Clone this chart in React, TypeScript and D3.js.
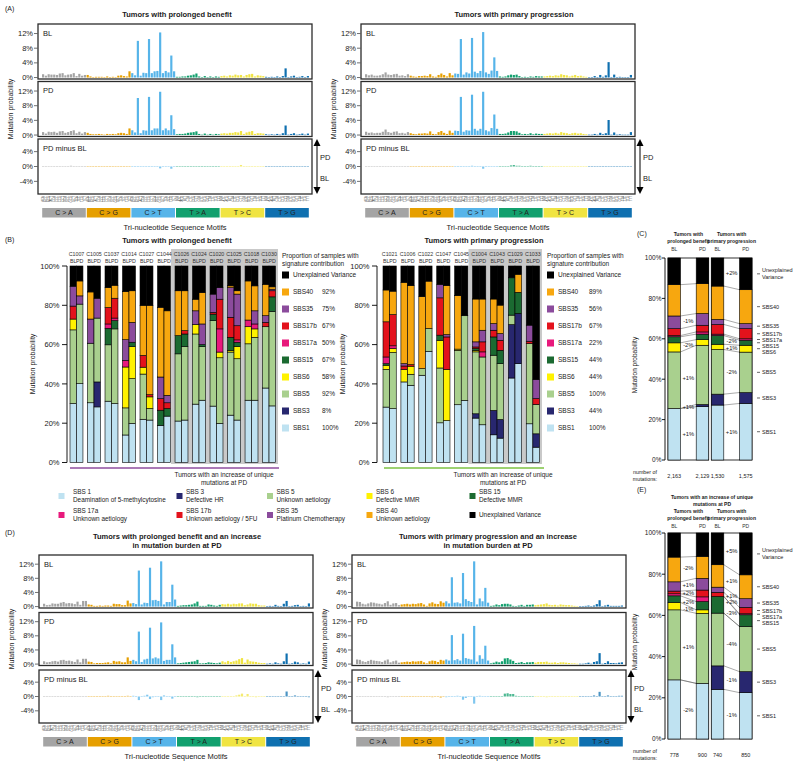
import React from 'react'
import * as d3 from 'd3'

const FONT = '"Liberation Sans", Arial, Helvetica, sans-serif'

// ---------- mutational spectra (% of mutations per trinucleotide context)
const SUBSTITUTIONS = ['C > A', 'C > G', 'C > T', 'T > A', 'T > C', 'T > G']
const SUB_COLORS = ['#a4a4a4', '#e69f00', '#56b4e9', '#12a06e', '#f0e442', '#0f70b0']
const BASES = ['A', 'C', 'G', 'T']
const MOTIFS = SUBSTITUTIONS.flatMap((s) => BASES.flatMap((a) => BASES.map((b) => a + s[0] + b)))

// (A) prolonged benefit
const PB_BL = [
  0.9, 0.5, 0.9, 0.8, 0.8, 0.7, 1.1, 1.2, 0.6, 0.8, 0.9, 1.2, 0.4, 1.0, 0.5, 0.7,
  0.7, 0.3, 0.1, 0.2, 0.2, 0.2, 0.1, 0.3, 0.1, 0.2, 0.1, 0.5, 0.6, 0.4, 0.3, 1.7,
  1.2, 0.6, 10.0, 0.5, 1.3, 1.2, 10.5, 1.2, 1.7, 1.8, 12.3, 1.2, 1.8, 1.4, 6.0, 1.7,
  0.2, 0.2, 0.3, 0.3, 0.5, 0.6, 0.8, 1.1, 0.3, 0.1, 0.4, 0.1, 0.3, 0.1, 0.3, 0.2,
  0.4, 0.5, 0.3, 0.6, 0.5, 0.8, 0.6, 0.7, 0.3, 0.7, 0.9, 1.0, 0.3, 0.6, 0.5, 0.4,
  0.2, 0.1, 0.2, 0.1, 0.3, 0.1, 0.4, 2.5, 0.1, 0.3, 0.5, 0.1, 0.2, 0.4, 0.1, 0.4,
]
const PB_PD = [
  0.8, 0.4, 0.9, 0.8, 0.9, 0.6, 1.0, 1.1, 0.6, 0.8, 1.1, 1.3, 0.5, 0.9, 0.4, 0.8,
  0.6, 0.3, 0.2, 0.2, 0.3, 0.2, 0.1, 0.3, 0.2, 0.3, 0.2, 0.5, 0.6, 0.5, 0.3, 1.8,
  1.3, 0.7, 10.1, 0.5, 1.3, 1.2, 10.4, 1.3, 1.8, 1.8, 11.8, 1.3, 1.8, 1.3, 5.4, 1.6,
  0.2, 0.3, 0.3, 0.4, 0.6, 0.7, 0.8, 1.0, 0.3, 0.1, 0.4, 0.1, 0.3, 0.1, 0.3, 0.2,
  0.4, 0.5, 0.4, 0.6, 0.6, 0.8, 0.7, 1.1, 0.3, 0.7, 0.9, 1.1, 0.3, 0.5, 0.5, 0.4,
  0.2, 0.1, 0.2, 0.1, 0.3, 0.1, 0.5, 2.6, 0.1, 0.3, 0.5, 0.1, 0.2, 0.4, 0.1, 0.4,
]
// (A) primary progression
const PP_BL = [
  0.9, 0.6, 0.8, 0.5, 0.5, 0.6, 0.9, 1.4, 0.8, 0.7, 0.9, 1.0, 0.5, 0.6, 0.4, 0.9,
  0.5, 0.3, 0.2, 0.4, 0.4, 0.5, 0.4, 0.9, 0.3, 0.2, 0.7, 1.1, 0.7, 0.3, 1.2, 0.6,
  1.1, 1.0, 10.5, 0.8, 1.4, 1.1, 10.8, 1.6, 1.2, 1.8, 12.4, 1.4, 1.0, 1.9, 5.5, 1.8,
  0.3, 0.2, 0.3, 0.6, 0.8, 0.7, 0.8, 0.4, 0.1, 0.2, 0.1, 0.3, 0.2, 0.4, 0.3, 0.3,
  0.3, 0.4, 0.5, 0.4, 0.6, 0.5, 0.9, 0.7, 0.6, 0.3, 0.5, 0.7, 0.4, 0.5, 0.3, 0.2,
  0.1, 0.1, 0.4, 0.1, 0.7, 0.2, 0.6, 4.2, 0.1, 0.8, 0.1, 0.2, 0.1, 0.1, 0.1, 0.7,
]
const PP_PD = [
  0.9, 0.6, 0.7, 0.5, 0.6, 0.6, 0.9, 1.5, 0.8, 0.6, 0.9, 1.0, 0.5, 0.6, 0.4, 0.8,
  0.5, 0.3, 0.2, 0.4, 0.4, 0.5, 0.4, 1.0, 0.3, 0.2, 0.8, 1.1, 0.6, 0.3, 1.2, 0.6,
  1.2, 1.1, 10.4, 0.9, 1.3, 1.2, 11.0, 1.7, 1.2, 1.7, 11.8, 1.3, 1.0, 1.9, 5.6, 1.7,
  0.3, 0.3, 0.4, 0.7, 1.1, 1.1, 1.0, 0.6, 0.2, 0.3, 0.2, 0.5, 0.2, 0.4, 0.3, 0.3,
  0.3, 0.4, 0.5, 0.4, 0.6, 0.4, 0.8, 0.6, 0.5, 0.3, 0.5, 0.6, 0.4, 0.5, 0.3, 0.2,
  0.1, 0.1, 0.3, 0.1, 0.6, 0.2, 0.5, 4.1, 0.1, 0.7, 0.1, 0.2, 0.1, 0.1, 0.1, 0.8,
]
// (D) prolonged benefit, increase in mutation burden
const IPB_BL = [
  0.8, 0.4, 0.5, 0.9, 0.8, 0.8, 1.1, 1.3, 0.9, 1.0, 0.9, 0.7, 1.4, 0.5, 1.6, 1.6,
  0.6, 0.5, 0.2, 0.2, 0.3, 0.2, 0.3, 0.3, 0.2, 0.8, 0.7, 0.7, 0.4, 0.4, 1.7, 0.9,
  1.0, 0.7, 10.2, 0.6, 1.1, 1.0, 11.0, 1.8, 1.9, 1.6, 12.8, 0.6, 1.3, 1.3, 6.2, 2.0,
  0.2, 0.3, 0.4, 0.4, 0.5, 0.6, 0.9, 1.4, 0.2, 0.2, 0.2, 0.6, 0.5, 0.3, 0.2, 0.5,
  0.7, 0.6, 0.8, 0.6, 0.8, 0.7, 0.9, 0.9, 0.4, 0.6, 0.9, 0.8, 0.8, 0.4, 0.3, 0.3,
  0.1, 0.2, 0.1, 0.5, 0.2, 0.1, 0.8, 1.6, 0.1, 0.2, 0.4, 0.5, 0.1, 0.2, 0.1, 0.9,
]
const IPB_PD = [
  0.8, 0.5, 0.6, 0.8, 0.9, 0.7, 1.1, 1.2, 0.9, 1.0, 0.8, 0.6, 1.3, 0.5, 1.5, 1.5,
  0.7, 0.6, 0.2, 0.3, 0.3, 0.3, 0.4, 0.5, 0.2, 0.9, 0.7, 0.8, 0.5, 0.5, 1.9, 0.9,
  1.2, 0.8, 9.2, 0.6, 1.3, 1.5, 10.3, 1.6, 1.9, 1.6, 11.8, 0.9, 1.2, 1.2, 5.6, 1.9,
  0.2, 0.3, 0.4, 0.5, 0.6, 0.7, 0.8, 1.2, 0.2, 0.2, 0.3, 0.5, 0.4, 0.3, 0.2, 0.4,
  0.8, 0.5, 0.9, 0.6, 0.8, 1.0, 1.4, 1.7, 0.4, 1.3, 0.8, 0.7, 0.6, 0.4, 0.3, 0.3,
  0.1, 0.2, 0.1, 0.5, 0.2, 0.1, 0.8, 3.0, 0.1, 0.2, 0.7, 0.5, 0.1, 0.2, 0.1, 0.7,
]
// (D) primary progression, increase in mutation burden
const IPP_BL = [
  1.4, 1.3, 0.8, 0.6, 0.9, 1.2, 1.1, 0.9, 0.8, 0.6, 1.0, 1.5, 0.5, 0.9, 1.0, 0.4,
  0.6, 0.7, 0.8, 0.6, 0.8, 0.7, 0.9, 1.0, 0.6, 0.2, 0.9, 1.2, 0.8, 0.7, 1.5, 1.1,
  1.5, 0.9, 8.3, 1.1, 1.2, 0.9, 9.5, 2.1, 1.6, 1.3, 12.8, 0.6, 2.3, 1.5, 5.3, 1.1,
  0.2, 0.3, 0.6, 0.4, 0.7, 0.8, 0.8, 0.6, 0.2, 0.1, 0.3, 0.5, 0.2, 0.5, 0.5, 0.6,
  0.4, 0.5, 0.6, 0.7, 0.9, 0.5, 0.4, 0.5, 0.3, 0.6, 0.5, 0.4, 0.4, 0.3, 0.2, 0.1,
  0.1, 0.1, 0.2, 0.3, 0.1, 0.3, 0.7, 1.8, 0.1, 0.3, 0.5, 0.2, 0.2, 0.2, 0.2, 0.3,
]
const IPP_PD = [
  1.3, 1.2, 0.8, 0.6, 0.9, 1.2, 1.0, 0.9, 0.8, 0.6, 1.0, 1.3, 0.5, 0.8, 1.0, 0.4,
  0.5, 0.6, 0.7, 0.6, 0.8, 0.7, 0.8, 0.9, 0.5, 0.2, 0.8, 1.0, 0.9, 0.6, 1.2, 1.0,
  1.3, 1.0, 8.2, 1.1, 1.4, 1.0, 8.6, 1.7, 1.5, 1.3, 10.8, 0.7, 2.5, 1.5, 5.2, 1.0,
  0.2, 0.4, 0.7, 0.5, 0.8, 1.6, 1.7, 1.3, 0.9, 0.3, 0.4, 0.6, 0.3, 0.5, 0.5, 0.6,
  0.4, 0.6, 0.6, 0.6, 0.7, 0.4, 0.4, 0.5, 0.3, 0.5, 0.5, 0.4, 0.3, 0.2, 0.2, 0.1,
  0.1, 0.1, 0.2, 0.4, 0.1, 0.6, 0.8, 3.1, 0.1, 0.3, 0.8, 0.3, 0.3, 0.2, 0.4, 0.5,
]

// ---------- signatures (stack order bottom -> top)
const SIGNATURES = ['SBS1', 'SBS3', 'SBS5', 'SBS6', 'SBS15', 'SBS17a', 'SBS17b', 'SBS35', 'SBS40', 'Unexplained Variance']
const SIG_COLORS = ['#bfe2f1', '#28276f', '#a9d08e', '#fff200', '#1b6a31', '#e8197c', '#e3121c', '#8b4b9c', '#f7a70f', '#000000']

// (B) per-sample contributions (%), rows = samples, cols = SIGNATURES
const B_PB_SAMPLES = ['C1007', 'C1005', 'C1037', 'C1014', 'C1027', 'C1044', 'C1026', 'C1024', 'C1020', 'C1025', 'C1018', 'C1030']
const B_PB_BL = [
  [30, 0, 37.5, 5.5, 0, 0, 6.6, 10.1, 0, 10.3],
  [30.4, 0, 30.3, 0, 0, 0, 0, 12.3, 13.8, 13.2],
  [31.2, 0, 28.7, 0, 8.4, 2.2, 8.4, 0, 10.1, 11],
  [14, 0, 13.8, 20.8, 0, 3.3, 0, 10.6, 24.5, 13],
  [22, 0, 23, 3.5, 0, 0, 6, 0, 25.5, 20],
  [18.9, 0, 0, 0, 7.7, 0, 5.9, 11, 35.5, 21],
  [21.1, 0, 34.2, 0, 9.3, 0, 0, 0, 22.8, 12.6],
  [29.7, 0, 35.7, 4.8, 0, 0, 0, 7, 5.9, 16.9],
  [28.7, 0, 43.5, 0, 3.3, 0, 0.9, 9.3, 0, 14.3],
  [24.1, 0, 32.1, 0.8, 6.7, 0, 10.2, 15.1, 0.9, 10.1],
  [31.7, 0, 28.7, 8.7, 0, 3.4, 0, 0, 19.9, 7.6],
  [37.9, 0, 31.2, 0, 0, 0, 2.2, 3.4, 16, 9.3],
]
const B_PB_PD = [
  [40.1, 0, 40.5, 0, 0, 0, 0, 4.2, 7.6, 7.6],
  [28.3, 12.7, 32.5, 0, 0, 0, 0, 10.1, 0, 16.4],
  [30, 0, 38, 0, 4.2, 1.3, 10.1, 0, 6.6, 9.8],
  [19.9, 0, 22.8, 16.3, 2.2, 0, 0, 10.1, 16.1, 12.6],
  [21.6, 0, 5.9, 5.9, 0, 0, 1.1, 0, 45.5, 20],
  [23.6, 0, 0, 0, 3.9, 0, 2.9, 3.8, 43, 22.8],
  [21.6, 0, 37.4, 0, 6.4, 0, 1.7, 0, 20.3, 12.6],
  [31.7, 0, 27.3, 0, 1, 0, 0, 10.5, 16, 13.5],
  [19.9, 0, 33.4, 2.9, 0, 11.8, 15.1, 5.9, 0, 11],
  [21.6, 0, 31.2, 6.2, 2.2, 1.2, 7.2, 16.1, 1.7, 12.6],
  [31.7, 0, 32, 4.3, 0, 2.5, 0, 6.7, 12.7, 10.1],
  [28.8, 0, 48.1, 0, 7.4, 0, 3.1, 0.8, 1.2, 10.6],
]
const B_PP_SAMPLES = ['C1021', 'C1006', 'C1022', 'C1047', 'C1045', 'C1004', 'C1043', 'C1029', 'C1033']
const B_PP_BL = [
  [28.2, 0, 19.2, 2.1, 0.8, 3.4, 17.9, 0, 16.2, 12.2],
  [41, 0, 0, 6.4, 0, 0, 1.7, 1.2, 41.4, 8.3],
  [44.4, 0, 3.4, 0, 0, 0, 0, 0, 36.6, 15.6],
  [20.2, 0, 27.9, 14.1, 2.6, 0, 19, 6.8, 0, 9.4],
  [29.4, 0, 27.7, 0.6, 0, 0, 0, 0, 27.2, 15.1],
  [22.6, 2.2, 31.5, 0.8, 0.9, 0, 0.8, 2.6, 21.8, 16.8],
  [14.1, 12.4, 28.1, 0, 9.3, 0, 3.4, 3.4, 12.5, 16.8],
  [43, 27.2, 4.8, 0, 19, 0, 0, 0, 0, 6],
  [19.7, 0, 40.8, 0, 0, 0, 1.2, 8.2, 0, 30.1],
]
const B_PP_PD = [
  [27.4, 0, 28.6, 2, 0, 1.4, 15.9, 0, 11.9, 12.8],
  [39.3, 0, 5.6, 4.1, 0, 0, 0.8, 0, 40.2, 10],
  [56.6, 0, 11.6, 0, 0, 0, 0, 0, 24.1, 7.7],
  [21.3, 0, 0, 26.1, 0, 0, 16.5, 1.2, 24.9, 10],
  [31.6, 0, 43.1, 0, 0, 0, 0, 0, 0, 25.3],
  [19.2, 0, 34.5, 0, 0, 2.6, 5.1, 5.9, 15.9, 16.8],
  [12.4, 9.5, 28.4, 0, 6.8, 0, 5.1, 3.4, 14.5, 19.9],
  [50.3, 25.6, 0, 0, 10.7, 0, 0, 0, 9.2, 4.2],
  [7.8, 6.8, 15, 0, 0, 0, 2.9, 9.7, 0, 57.8],
]
// proportion of samples with signature contribution (same order as SIGNATURES)
const B_PB_PROPORTION = ['100%', '8%', '92%', '58%', '67%', '50%', '67%', '75%', '92%', '']
const B_PP_PROPORTION = ['100%', '44%', '100%', '44%', '44%', '22%', '67%', '56%', '89%', '']

// bottom legend of (B)
const LEGEND_NAMES = ['SBS 1', 'SBS 3', 'SBS 5', 'SBS 6', 'SBS 15', 'SBS 17a', 'SBS 17b', 'SBS 35', 'SBS 40', 'Unexplained Variance']
const LEGEND_DESC = [
  'Deamination of 5-methylcytosine', 'Defective HR', 'Unknown aetiology', 'Defective MMR', 'Defective MMR',
  'Unknown aetiology', 'Unknown aetiology / 5FU', 'Platinum Chemotherapy', 'Unknown aetiology', '',
]

// (C) average contributions, all tumors
const C_PB_BL = [25.5, 0, 28, 4.5, 3, 0.6, 3.4, 6.3, 15.5, 13.2]
const C_PB_PD = [26.4, 1.1, 29.3, 2.8, 2.7, 1.1, 3.3, 5.8, 14.8, 12.7]
const C_PP_BL = [27.2, 5.4, 22.1, 2.6, 4.3, 0.7, 4.8, 2.5, 16.5, 13.9]
const C_PP_PD = [28, 5.4, 20, 3.4, 2.5, 0.7, 5, 2.5, 16.8, 15.7]
const C_PB_DELTA = ['+1%', '+1%', '+1%', '-2%', '', '', '', '-1%', '', '']
const C_PP_DELTA = ['+1%', '', '-2%', '+1%', '-2%', '', '', '', '', '+2%']
const C_COUNTS = ['2,163', '2,129', '1,530', '1,575']

// (E) tumors with an increase of unique mutations at PD
const E_PB_BL = [28.7, 0, 34, 3.6, 3.2, 1, 1.3, 4.5, 12, 11.7]
const E_PB_PD = [27, 0, 34, 1.7, 4, 2.3, 3.3, 5.7, 10.6, 11.4]
const E_PP_BL = [24.1, 11.4, 25.6, 0, 8.1, 0, 2, 2.5, 10.9, 15.4]
const E_PP_PD = [22.5, 10.2, 21.9, 0, 5.7, 0.5, 3.1, 4.2, 11.6, 20.3]
const E_PB_DELTA = ['-2%', '', '+1%', '-1%', '+2%', '', '+2%', '+1%', '-2%', '']
const E_PP_DELTA = ['-1%', '-1%', '-4%', '', '-3%', '', '+2%', '+1%', '+1%', '+5%']
const E_COUNTS = ['778', '900', '740', '850']

const INK = '#1a1a1a'

function Spectra({ x, top, boxH, gap, w, bl, pd }: any) {
  const diff = pd.map((v: number, i: number) => v - bl[i])
  const xs = d3.scaleBand<number>().domain(d3.range(MOTIFS.length)).range([x + 4, x + w - 3]).paddingInner(0.22)
  const bw = xs.bandwidth()
  const half = (xs.step() * xs.paddingInner()) / 2
  const rows = [
    { name: 'BL', values: bl, domain: [-0.4, 14.6], ticks: [0, 4, 8, 12] },
    { name: 'PD', values: pd, domain: [-0.4, 14.6], ticks: [0, 4, 8, 12] },
    { name: 'PD minus BL', values: diff, domain: [-7.4, 7.4], ticks: [-4, 0, 4] },
  ]
  const bottom = top + 3 * boxH + 2 * gap
  const diffTop = top + 2 * (boxH + gap)
  const ax = x + w + 5
  return (
    <g>
      {rows.map((r, ri) => {
        const y0 = top + ri * (boxH + gap)
        const y = d3.scaleLinear().domain(r.domain).range([y0 + boxH, y0])
        return (
          <g key={r.name}>
            <rect x={x} y={y0} width={w} height={boxH} fill="#fff" stroke="#2b2b2b" strokeWidth={1.3} />
            {r.ticks.map((t) => (
              <g key={t}>
                <line x1={x - 4} x2={x - 0.5} y1={y(t)} y2={y(t)} stroke="#333" strokeWidth={0.7} />
                <text x={x - 5} y={y(t) + 2.6} textAnchor="end" fontSize={7.5} fill={INK}>{t}%</text>
              </g>
            ))}
            {r.values.map((v: number, i: number) => (
              <rect
                key={i}
                x={xs(i)}
                y={y(Math.max(v, 0))}
                width={bw}
                height={Math.max(0.5, Math.abs(y(v) - y(0)))}
                fill={SUB_COLORS[Math.floor(i / 16)]}
                opacity={ri === 2 ? 0.75 : 1}
              />
            ))}
            <text x={x + 5} y={y0 + 11.5} fontSize={7.5} fill={INK}>{r.name}</text>
          </g>
        )
      })}
      {/* arrow */}
      <line x1={ax} x2={ax} y1={diffTop + 5} y2={bottom - 5} stroke="#000" strokeWidth={1} />
      <path d={`M${ax - 3.5},${diffTop + 7}L${ax},${diffTop}L${ax + 3.5},${diffTop + 7}Z`} fill="#000" />
      <path d={`M${ax - 3.5},${bottom - 7}L${ax},${bottom}L${ax + 3.5},${bottom - 7}Z`} fill="#000" />
      <text x={ax + 3} y={diffTop + 21} fontSize={7.5} fill={INK}>PD</text>
      <text x={ax + 3} y={diffTop + 42} fontSize={7.5} fill={INK}>BL</text>
      {/* motif labels */}
      {MOTIFS.map((m, i) => (
        <text
          key={i}
          transform={`translate(${xs(i)! + bw / 2 + 1},${bottom + 2}) rotate(-90)`}
          textAnchor="end"
          fontSize={2.8}
          fill="#444"
        >
          {m}
        </text>
      ))}
      {SUBSTITUTIONS.map((s, i) => {
        const x0 = xs(i * 16)! - half + 0.5
        const x1 = xs(i * 16 + 15)! + bw + half - 0.5
        return (
          <g key={s}>
            <rect x={x0} y={bottom + 14} width={x1 - x0} height={9.5} fill={SUB_COLORS[i]} />
            <text x={(x0 + x1) / 2} y={bottom + 21.3} textAnchor="middle" fontSize={7} fill="#222">{s}</text>
          </g>
        )
      })}
      <text x={x + w / 2} y={bottom + 36} textAnchor="middle" fontSize={7.5} fill={INK}>Tri-nucleotide Sequence Motifs</text>
      <text transform={`translate(${x - 25},${(top + bottom) / 2}) rotate(-90)`} textAnchor="middle" fontSize={7} fill={INK}>
        Mutation probability
      </text>
    </g>
  )
}

function Stack({ x, w, values, y }: any) {
  const cum = d3.cumsum(values as number[])
  return (
    <g>
      {(values as number[]).map((v, i) =>
        v > 0 ? (
          <rect key={i} x={x} y={y(cum[i])} width={w} height={y(cum[i] - v) - y(cum[i])} fill={SIG_COLORS[i]} stroke="#000" strokeWidth={0.6} />
        ) : null
      )}
    </g>
  )
}

function SampleBars({ samples, bl, pd, range, axisX, greyFrom, title, titleX, legendX, pctX, proportions, lineColor, lineRange, noteX }: any) {
  const xs = d3.scaleBand<string>().domain(samples).range(range).paddingInner(0.26)
  const bw = xs.bandwidth() / 2
  const y = d3.scaleLinear().domain([0, 100]).range([462.5, 266])
  const greyX = xs(samples[greyFrom])! - 4
  const order = d3.range(SIGNATURES.length - 1, -1, -1)
  const ly = d3.scalePoint<number>().domain(order).range([275, 428])
  return (
    <g>
      <rect x={greyX} y={249} width={range[1] + 2.5 - greyX} height={215} fill="#c9c9c9" />
      <text x={titleX} y={242.7} textAnchor="middle" fontSize={7.5} fontWeight="bold" fill={INK}>{title}</text>
      <line x1={axisX} x2={axisX} y1={y(100)} y2={y(0)} stroke="#000" strokeWidth={0.9} />
      {y.ticks(5).map((t) => (
        <g key={t}>
          <line x1={axisX - 5} x2={axisX} y1={y(t)} y2={y(t)} stroke="#000" strokeWidth={0.9} />
          <text x={axisX - 7.5} y={y(t) + 2.6} textAnchor="end" fontSize={7.5} fill={INK}>{t}%</text>
        </g>
      ))}
      <text transform={`translate(${axisX - 32},364) rotate(-90)`} textAnchor="middle" fontSize={7} fill={INK}>Mutation probability</text>
      {samples.map((s: string, i: number) => {
        const sx = xs(s)!
        return (
          <g key={s}>
            <text x={sx + bw} y={256} textAnchor="middle" fontSize={5.3} fill="#333">{s}</text>
            <text x={sx + bw / 2} y={263} textAnchor="middle" fontSize={5.3} fill="#333">BL</text>
            <text x={sx + bw * 1.5} y={263} textAnchor="middle" fontSize={5.3} fill="#333">PD</text>
            <Stack x={sx} w={bw} values={bl[i]} y={y} />
            <Stack x={sx + bw} w={bw} values={pd[i]} y={y} />
          </g>
        )
      })}
      {/* legend */}
      <text x={legendX} y={258} fontSize={6.5} fill={INK}>Proportion of samples with</text>
      <text x={legendX} y={266} fontSize={6.5} fill={INK}>signature contribution</text>
      {order.map((k) => (
        <g key={k}>
          <rect x={legendX} y={ly(k)! - 3.5} width={7} height={7} fill={SIG_COLORS[k]} />
          <text x={legendX + 11} y={ly(k)! + 2.3} fontSize={6.5} fill={INK}>{SIGNATURES[k]}</text>
          <text x={pctX} y={ly(k)! + 2.3} fontSize={6.5} fill={INK}>{proportions[k]}</text>
        </g>
      ))}
      <line x1={lineRange[0]} x2={lineRange[1]} y1={468} y2={468} stroke={lineColor} strokeWidth={1.3} />
      <text x={noteX} y={477} textAnchor="middle" fontSize={6.5} fill={INK}>Tumors with an increase of unique</text>
      <text x={noteX} y={485} textAnchor="middle" fontSize={6.5} fill={INK}>mutations at PD</text>
    </g>
  )
}

function Summary({ top, zero, groups, counts, headerY }: any) {
  const axisX = 665
  const gx = d3.scaleBand<number>().domain([0, 1]).range([668, 752]).paddingInner(0.06)
  const gw = gx.bandwidth()
  const bw = 12.5
  const y = d3.scaleLinear().domain([0, 100]).range([zero, top])
  const last = groups[1].pd as number[]
  const lastCum = d3.cumsum(last)
  const barCenters: number[] = []
  groups.forEach((_: any, gi: number) => {
    barCenters.push(gx(gi)! + bw / 2, gx(gi)! + gw - bw / 2)
  })
  // right-hand labels at the middle of the last bar's segments, nudged apart from the top down
  const labels: { i: number; yc: number; ty: number }[] = []
  let prev = -Infinity
  for (let i = last.length - 1; i >= 0; i--) {
    if (last[i] <= 0) continue
    const yc = y(lastCum[i] - last[i] / 2)
    const isUV = SIGNATURES[i] === 'Unexplained Variance'
    const ty = Math.max(yc, prev + 6)
    labels.push({ i, yc, ty })
    prev = isUV ? ty + 4 : ty
  }
  return (
    <g>
      <line x1={axisX} x2={axisX} y1={top} y2={zero} stroke="#000" strokeWidth={0.9} />
      {y.ticks(5).map((t) => (
        <g key={t}>
          <line x1={axisX - 3} x2={axisX} y1={y(t)} y2={y(t)} stroke="#000" strokeWidth={0.9} />
          <text x={axisX - 3.5} y={y(t) + 2.3} textAnchor="end" fontSize={6.5} fill={INK}>{t}%</text>
        </g>
      ))}
      <text transform={`translate(637,${(top + zero) / 2 + 6}) rotate(-90)`} textAnchor="middle" fontSize={6.5} fill={INK}>Mutation probability</text>
      {groups.map((g: any, gi: number) => {
        const x0 = gx(gi)!
        const blCum = d3.cumsum(g.bl as number[])
        const pdCum = d3.cumsum(g.pd as number[])
        return (
          <g key={gi}>
            <text x={x0 + gw / 2} y={headerY} textAnchor="middle" fontSize={5} fontWeight="bold" fill={INK}>Tumors with</text>
            <text x={x0 + gw / 2} y={headerY + 7} textAnchor="middle" fontSize={5} fontWeight="bold" fill={INK}>{g.name}</text>
            <text x={x0 + bw / 2} y={headerY + 15} textAnchor="middle" fontSize={5} fill="#333">BL</text>
            <text x={x0 + gw - bw / 2} y={headerY + 15} textAnchor="middle" fontSize={5} fill="#333">PD</text>
            <rect x={x0} y={top} width={gw} height={zero - top} fill="#fff" stroke="#000" strokeWidth={0.8} />
            {SIGNATURES.slice(0, -1).map((_, i) => (
              <line key={i} x1={x0 + bw} x2={x0 + gw - bw} y1={y(blCum[i])} y2={y(pdCum[i])} stroke="#555" strokeWidth={0.5} />
            ))}
            <Stack x={x0} w={bw} values={g.bl} y={y} />
            <Stack x={x0 + gw - bw} w={bw} values={g.pd} y={y} />
            {g.delta.map((d: string, i: number) =>
              d ? (
                <text
                  key={i}
                  x={x0 + gw / 2}
                  y={y((blCum[i] - g.bl[i] / 2 + pdCum[i] - g.pd[i] / 2) / 2) + 2}
                  textAnchor="middle"
                  fontSize={5.8}
                  fill={INK}
                >
                  {d}
                </text>
              ) : null
            )}
          </g>
        )
      })}
      {labels.map(({ i, yc, ty }) => {
        const name = SIGNATURES[i]
        return (
          <g key={i}>
            <line x1={757} x2={760} y1={yc} y2={yc} stroke="#000" strokeWidth={0.6} />
            {name === 'Unexplained Variance' ? (
              <>
                <text x={762} y={ty - 1.5} fontSize={5.5} fill={INK}>Unexplained</text>
                <text x={762} y={ty + 5.5} fontSize={5.5} fill={INK}>Variance</text>
              </>
            ) : (
              <text x={762} y={ty + 2} fontSize={5.5} fill={INK}>{name}</text>
            )}
          </g>
        )
      })}
      <text x={645} y={zero + 14} textAnchor="middle" fontSize={5.3} fill={INK}>number of</text>
      <text x={645} y={zero + 21} textAnchor="middle" fontSize={5.3} fill={INK}>mutations:</text>
      {counts.map((c: string, i: number) => (
        <text key={i} x={barCenters[i]} y={zero + 18} textAnchor="middle" fontSize={5.5} fill={INK}>{c}</text>
      ))}
    </g>
  )
}

export default function App() {
  const legendCols = [58.5, 176.5, 267, 366.5, 469.5]
  return (
    <svg width={800} height={769} style={{ position: 'absolute', left: 0, top: 0, fontFamily: FONT }}>
      <rect width={800} height={769} fill="#fff" />

      {/* (A) */}
      <text x={5} y={11} fontSize={7} fill={INK}>(A)</text>
      <text x={177} y={16.7} textAnchor="middle" fontSize={7.5} fontWeight="bold" fill={INK}>Tumors with prolonged benefit</text>
      <text x={514} y={16.7} textAnchor="middle" fontSize={7.5} fontWeight="bold" fill={INK}>Tumors with primary progression</text>
      <Spectra x={38} top={24} boxH={55} gap={2.5} w={274} bl={PB_BL} pd={PB_PD} />
      <Spectra x={361} top={24} boxH={55} gap={2.5} w={274} bl={PP_BL} pd={PP_PD} />

      {/* (B) */}
      <text x={5} y={242} fontSize={7} fill={INK}>(B)</text>
      <SampleBars
        samples={B_PB_SAMPLES} bl={B_PB_BL} pd={B_PB_PD} range={[70, 275.5]} axisX={67} greyFrom={6}
        title="Tumors with prolonged benefit" titleX={177} legendX={282} pctX={322} proportions={B_PB_PROPORTION}
        lineColor="#8e4c9e" lineRange={[70, 279]} noteX={224}
      />
      <SampleBars
        samples={B_PP_SAMPLES} bl={B_PP_BL} pd={B_PP_PD} range={[383, 539.5]} axisX={377} greyFrom={5}
        title="Tumors with primary progression" titleX={484} legendX={547} pctX={589} proportions={B_PP_PROPORTION}
        lineColor="#7cc242" lineRange={[384, 544]} noteX={503}
      />
      {LEGEND_NAMES.map((n, i) => {
        const row = Math.floor(i / 5)
        const col = i % 5
        const sx = legendCols[col]
        const ty = row === 0 ? 494 : 513
        const tx = sx + (col === 0 ? 14.5 : 9.5)
        return (
          <g key={n}>
            <rect x={sx} y={ty - 1} width={6} height={6} fill={SIG_COLORS[i]} />
            {LEGEND_DESC[i] ? (
              <>
                <text x={tx} y={ty} fontSize={6.4} fill={INK}>{n}</text>
                <text x={tx} y={ty + 7.5} fontSize={6.4} fill={INK}>{LEGEND_DESC[i]}</text>
              </>
            ) : (
              <text x={tx} y={ty + 4} fontSize={6.4} fill={INK}>{n}</text>
            )}
          </g>
        )
      })}

      {/* (C) */}
      <text x={637} y={236} fontSize={7} fill={INK}>(C)</text>
      <Summary
        top={258} zero={460} headerY={236} counts={C_COUNTS}
        groups={[
          { name: 'prolonged benefit', bl: C_PB_BL, pd: C_PB_PD, delta: C_PB_DELTA },
          { name: 'primary progression', bl: C_PP_BL, pd: C_PP_PD, delta: C_PP_DELTA },
        ]}
      />

      {/* (E) */}
      <text x={637} y={492} fontSize={7} fill={INK}>(E)</text>
      <text x={712} y={499} textAnchor="middle" fontSize={5} fontWeight="bold" fill={INK}>Tumors with an increase of unique</text>
      <text x={712} y={506} textAnchor="middle" fontSize={5} fontWeight="bold" fill={INK}>mutations at PD</text>
      <Summary
        top={533} zero={739} headerY={513} counts={E_COUNTS}
        groups={[
          { name: 'prolonged benefit', bl: E_PB_BL, pd: E_PB_PD, delta: E_PB_DELTA },
          { name: 'primary progression', bl: E_PP_BL, pd: E_PP_PD, delta: E_PP_DELTA },
        ]}
      />

      {/* (D) */}
      <text x={5} y={535} fontSize={7} fill={INK}>(D)</text>
      <text x={177} y={538.7} textAnchor="middle" fontSize={7.5} fontWeight="bold" fill={INK}>Tumors with prolonged benefit and an increase</text>
      <text x={177} y={548} textAnchor="middle" fontSize={7.5} fontWeight="bold" fill={INK}>in mutation burden at PD</text>
      <text x={488} y={538.7} textAnchor="middle" fontSize={7.5} fontWeight="bold" fill={INK}>Tumors with primary progression and an increase</text>
      <text x={488} y={548} textAnchor="middle" fontSize={7.5} fontWeight="bold" fill={INK}>in mutation burden at PD</text>
      <Spectra x={39} top={555} boxH={53} gap={4.5} w={274} bl={IPB_BL} pd={IPB_PD} />
      <Spectra x={352} top={555} boxH={53} gap={4.5} w={274} bl={IPP_BL} pd={IPP_PD} />
    </svg>
  )
}
